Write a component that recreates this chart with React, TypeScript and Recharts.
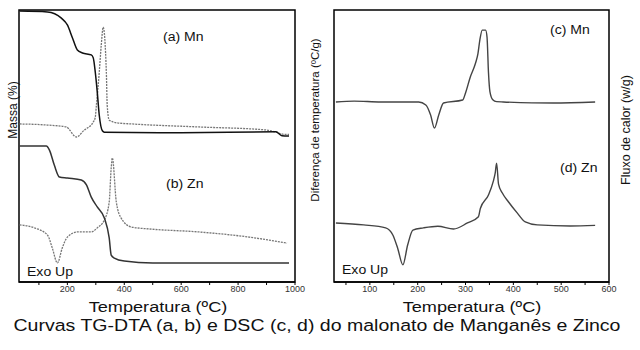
import React from 'react';
import { LineChart, Line, XAxis, YAxis, ReferenceArea } from 'recharts';

// temperatures (ºC) and relative signal (arbitrary units, 0-100)
const mnTgT = [32, 130, 179, 200, 218, 235, 253, 284, 291, 298, 305, 312, 323, 330, 600, 933, 954, 979];
const mnTgV = [99.6, 99.3, 97, 94.5, 89.7, 85.3, 84.2, 83.5, 82.4, 77.2, 69.9, 61.4, 55.6, 55.1, 54.9, 55.2, 53.8, 53.7];

const mnDtaT = [32, 130, 196, 232, 260, 270, 291, 298, 302, 312, 319, 326, 337, 340, 347, 375, 428, 663, 898, 933, 961, 979];
const mnDtaV = [58.1, 57.7, 57, 53.3, 55.9, 56.6, 58.8, 60.5, 65, 77, 87, 93.7, 77, 65, 59.5, 58.5, 58.1, 57, 55.9, 55.1, 54.3, 54.3];

const znTgT = [32, 126, 137, 154, 172, 200, 249, 267, 284, 305, 330, 347, 354, 365, 400, 500, 979];
const znTgV = [50, 50, 48.5, 43, 38.6, 38.2, 37.5, 35.7, 31.2, 27.6, 23.5, 16.2, 9.9, 8.8, 7.7, 7.0, 7.0];

const znDtaT = [32, 84, 130, 147, 165, 182, 200, 235, 284, 305, 330, 347, 354, 358, 372, 389, 425, 488, 663, 839, 972];
const znDtaV = [21, 19.9, 17.3, 12.5, 7.0, 12.5, 16.5, 18.4, 18.4, 19.9, 22.8, 29.4, 41.9, 45.6, 29.4, 23.5, 20.2, 19.5, 18.4, 16.5, 14.3];

const mnDscT = [29, 67, 123, 202, 217, 227, 235, 244, 254, 294, 300, 310, 321, 326, 330, 335, 342, 345, 348, 351, 357, 365, 379, 483, 571];
const mnDscV = [66.2, 66.5, 66.2, 66.2, 65.1, 61.4, 56.6, 61.4, 65.8, 66.9, 69.5, 75.4, 80.5, 84, 89, 92.6, 92.6, 90, 77, 70, 67, 66.3, 66.2, 65.8, 66.2];

const znDscT = [29, 87, 133, 148, 158, 169, 179, 190, 212, 242, 275, 304, 327, 331, 348, 358, 362, 365, 369, 377, 390, 408, 425, 450, 519, 571];
const znDscV = [21.7, 21, 19.9, 17.3, 12.5, 6.3, 13.6, 19.1, 19.9, 20.5, 19.5, 21.7, 24, 27, 32, 37, 40, 43.7, 36, 32.7, 29.4, 25.4, 22.1, 21, 20.6, 20.8];

const tgTicks = [100, 200, 300, 400, 500, 600, 700, 800, 900, 1000];
const dscTicks = [50, 100, 150, 200, 250, 300, 350, 400, 450, 500, 550, 600];
const tgDomain: [number, number] = [30, 1000];
const dscDomain: [number, number] = [25, 600];

const toPts = (t: number[], v: number[]) => t.map((x, i) => ({ t: x, v: v[i] }));

const FONT = '"Liberation Sans", Arial, sans-serif';
const STRETCH = 1.17; // the source picture is stretched sideways
const tickStyle = { fontSize: 9, fill: '#333', fontFamily: FONT };

// horizontal text; y is the baseline
function Note({ x, y, size, center, children }: { x: number; y: number; size: number; center?: boolean; children: React.ReactNode }) {
  return (
    <div
      style={{
        position: 'absolute', left: x, top: y - 0.85 * size, fontSize: size, lineHeight: 1, whiteSpace: 'nowrap', color: '#111',
        transform: center ? `translateX(-50%) scaleX(${STRETCH})` : `scaleX(${STRETCH})`,
        transformOrigin: center ? 'center' : 'left center',
      }}
    >
      {children}
    </div>
  );
}

function VLabel({ cx, cy, size, text }: { cx: number; cy: number; size: number; text: string }) {
  return (
    <div
      style={{
        position: 'absolute', left: cx, top: cy, fontSize: size, lineHeight: 1, whiteSpace: 'nowrap', color: '#111',
        transform: 'translate(-50%, -50%) rotate(-90deg)',
      }}
    >
      {text}
    </div>
  );
}

export default function App() {
  const axisLine = { stroke: '#000', strokeWidth: 1.5 };
  return (
    <div style={{ position: 'absolute', left: 0, top: 0, width: 640, height: 350, background: '#fff', fontFamily: FONT }}>
      <div style={{ position: 'absolute', left: 0, top: 0 }}>
        <LineChart width={310} height={300} margin={{ top: 10, right: 15, left: 19, bottom: 0 }}>
          <XAxis
            xAxisId="b" dataKey="t" type="number" domain={tgDomain} ticks={tgTicks} interval={0}
            tickFormatter={(v: number) => (v % 200 === 0 ? String(v) : '')}
            height={18} tickSize={3} tickMargin={1} tick={tickStyle} axisLine={axisLine} tickLine={{ stroke: '#000' }}
            allowDataOverflow
          />
          <YAxis yAxisId="l" type="number" domain={[0, 100]} hide />
          <ReferenceArea xAxisId="b" yAxisId="l" x1={tgDomain[0]} x2={tgDomain[1]} y1={0} y2={100} fill="none" stroke="#000" strokeWidth={1.5} ifOverflow="visible" />
          <Line xAxisId="b" yAxisId="l" data={toPts(mnDtaT, mnDtaV)} dataKey="v" type="monotone" stroke="#777" strokeWidth={1.3} strokeDasharray="2 1" dot={false} isAnimationActive={false} />
          <Line xAxisId="b" yAxisId="l" data={toPts(znDtaT, znDtaV)} dataKey="v" type="monotone" stroke="#777" strokeWidth={1.3} strokeDasharray="2 1" dot={false} isAnimationActive={false} />
          <Line xAxisId="b" yAxisId="l" data={toPts(mnTgT, mnTgV)} dataKey="v" type="monotone" stroke="#111" strokeWidth={1.5} dot={false} isAnimationActive={false} />
          <Line xAxisId="b" yAxisId="l" data={toPts(znTgT, znTgV)} dataKey="v" type="monotone" stroke="#333" strokeWidth={1.5} dot={false} isAnimationActive={false} />
        </LineChart>
      </div>
      <div style={{ position: 'absolute', left: 320, top: 0 }}>
        <LineChart width={310} height={300} margin={{ top: 10, right: 21, left: 14, bottom: 0 }}>
          <XAxis
            xAxisId="b" dataKey="t" type="number" domain={dscDomain} ticks={dscTicks} interval={0}
            tickFormatter={(v: number) => (v % 100 === 0 ? String(v) : '')}
            height={18} tickSize={3} tickMargin={1} tick={tickStyle} axisLine={axisLine} tickLine={{ stroke: '#000' }}
            allowDataOverflow
          />
          <YAxis yAxisId="l" type="number" domain={[0, 100]} hide />
          <ReferenceArea xAxisId="b" yAxisId="l" x1={dscDomain[0]} x2={dscDomain[1]} y1={0} y2={100} fill="none" stroke="#000" strokeWidth={1.5} ifOverflow="visible" />
          <Line xAxisId="b" yAxisId="l" data={toPts(mnDscT, mnDscV)} dataKey="v" type="monotone" stroke="#444" strokeWidth={1.4} dot={false} isAnimationActive={false} />
          <Line xAxisId="b" yAxisId="l" data={toPts(znDscT, znDscV)} dataKey="v" type="monotone" stroke="#444" strokeWidth={1.4} dot={false} isAnimationActive={false} />
        </LineChart>
      </div>

      <VLabel cx={12.5} cy={110} size={12} text="Massa (%)" />
      <VLabel cx={316} cy={120} size={11.5} text="Diferença de temperatura (ºC/g)" />
      <VLabel cx={626} cy={130} size={12.5} text="Fluxo de calor (w/g)" />

      <Note x={163} y={41} size={12}>(a) Mn</Note>
      <Note x={166} y={188} size={12}>(b) Zn</Note>
      <Note x={550} y={34} size={12}>(c) Mn</Note>
      <Note x={560} y={172} size={12}>(d) Zn</Note>
      <Note x={27} y={276} size={12}>Exo Up</Note>
      <Note x={342} y={274} size={12}>Exo Up</Note>

      <Note x={157.5} y={312.5} size={15.5} center>Temperatura (ºC)</Note>
      <Note x={472} y={312.5} size={15.5} center>Temperatura (ºC)</Note>
      <Note x={316.5} y={332} size={16.7} center>
        Curvas TG-DTA (a, b) e DSC (c, d) do malonato de Manganês e Zinco
      </Note>
    </div>
  );
}
